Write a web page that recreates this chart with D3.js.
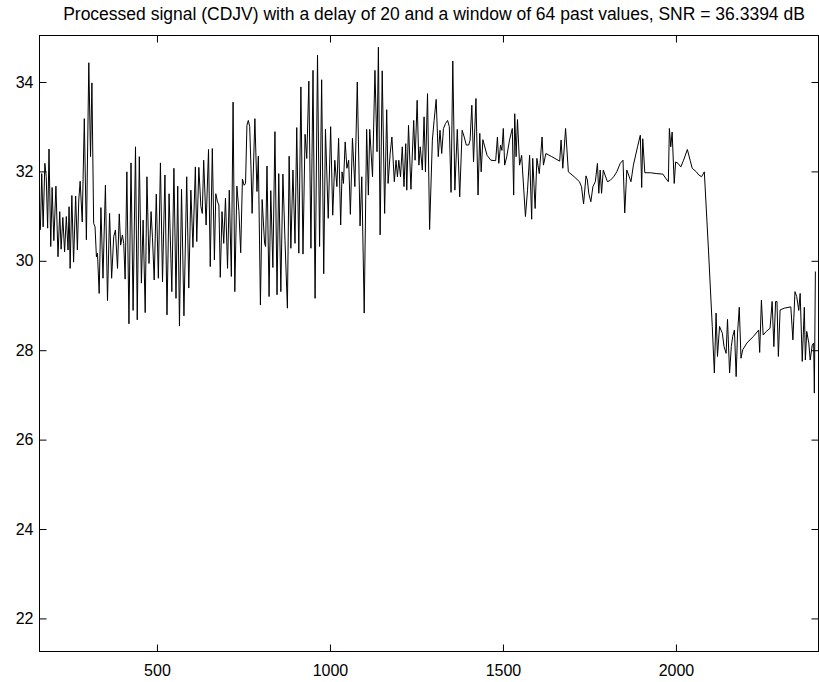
<!DOCTYPE html>
<html><head><meta charset="utf-8">
<script src="https://cdn.jsdelivr.net/npm/d3@7"></script>
<style>
body{margin:0;background:#fff;}
svg{display:block;}
text{font-family:"Liberation Sans",Arial,Helvetica,sans-serif;fill:#000;}
</style>
</head><body>
<svg id="chart" width="819" height="682"></svg>
<script>
const titleText = "Processed signal (CDJV) with a delay of 20 and a window of 64 past values, SNR = 36.3394 dB";

const sampleX = [
163,167,171,176,180,184,188,193,197,202,208,214,219,223,228,233,238,243,246,249,254,259,265,270,274,278,284,290,296,303,308,312,317,321,325,328,333,338,344,351,357,363,369,375,380,386,391,395,400,404,408,413,419,425,431,438,443,449,455,460,466,471,477,483,487,492,498,504,510,516,523,529,535,
543,549,555,560,565,571,578,586,592,598,604,611,615,621,627,631,635,642,649,654,660,666,670,675,679,683,688,693,698,704,709,715,720,725,731,737,742,747,752,756,760,764,768,772,775,783,789,793,799,804,811,814,818,824,829,835,841,847,852,858,864,870,877,882,887,893,899,904,910,
916,922,928,933,939,945,951,957,964,970,976,982,987,995,1002,1008,1014,1020,1025,1031,1035,1039,1044,1049,1054,1059,1065,1072,1079,1087,1092,1099,1106,1111,1115,1123,1130,1136,1140,1145,1151,1158,1164,1168,1174,1179,1186,1191,1195,1199,1204,1209,1214,1219,1222,1227,1234,1242,1246,1252,1257,1261,1267,1272,1276,1282,1288,
1296,1301,1307,1313,1318,1323,1328,1334,1340,1345,1350,1355,1361,1368,1375,1382,1388,1394,1401,1405,1410,1415,1422,1428,1433,1437,1442,1454,1465,1479,1484,1488,1493,1497,1501,1505,1511,1519,1527,1531,1534,1538,1542,1548,1554,1565,1571,1577,1583,1586,1593,1598,1605,1613,1617,1624,1641,1664,1668,1673,1681,1689,1706,1721,1727,1733,1740,1744,1748,1754,1760,1767,1773,1777,1781,
1785,1790,1795,1802,1810,1820,1829,1839,1847,1852,1858,1870,1877,1889,1897,1901,1904,1910,1926,1945,1962,1971,1978,1981,1985,1989,1995,1999,2006,2014,2022,2033,2041,2047,2059,2066,2074,2082,2094,2105,2111,2116,2120,2126,2134,2139,2145,2149,2155,2160,2164,2169,2174,2178,2183,2188,2193,2205,2224,2239,2242,2247,2252,2261,2272,2278,2283,2288,2292,2296,2301,2313,2332,2338,2344,2349,2355,2359,2365,2371,2374,2378,2384,2388,2394,2398,2400,2403
];

const signal = [
30.69,31.95,30.76,32.18,31.88,30.73,32.50,30.32,31.64,30.45,31.67,30.09,31.10,30.26,30.97,30.20,30.99,30.24,31.21,29.83,31.46,29.97,31.45,30.24,31.36,31.78,30.87,33.18,30.47,34.43,32.33,33.98,30.84,30.76,30.09,30.17,29.27,31.19,29.61,31.69,29.11,31.06,29.61,30.54,30.69,29.83,31.05,30.35,30.58,30.39,29.59,31.99,28.59,32.19,28.89,32.55,28.68,32.33,29.50,30.91,28.84,31.88,29.94,31.10,30.52,29.57,31.49,29.61,32.19,29.53,31.92,28.79,31.50,
29.31,32.07,29.16,31.67,28.54,31.60,28.77,31.88,29.39,31.58,30.30,32.10,30.43,32.09,31.21,31.06,32.25,30.80,32.49,29.87,32.51,30.02,31.50,31.32,31.25,29.63,31.10,30.39,31.40,29.83,31.58,29.65,33.55,29.31,31.67,31.10,30.18,31.83,31.69,31.73,33.03,33.14,33.00,32.03,31.06,33.18,31.55,32.34,29.01,31.37,30.39,30.32,32.12,29.20,31.57,29.85,32.89,29.24,31.95,29.31,31.94,30.46,28.94,32.34,30.28,32.03,30.39,32.98,30.17,
33.89,30.15,32.83,32.29,34.02,30.28,34.26,29.16,34.60,30.32,34.05,29.71,32.94,30.95,33.00,31.02,32.25,31.66,32.74,30.80,31.99,31.73,32.66,32.07,32.25,31.04,32.74,31.66,34.00,30.78,31.88,28.83,32.94,31.47,32.94,31.88,34.26,32.44,34.78,30.58,34.25,31.06,33.38,31.73,32.40,32.77,31.77,32.25,31.88,32.25,31.88,32.55,31.66,32.62,31.58,33.03,31.60,33.14,32.25,33.59,32.14,32.55,32.03,33.22,31.99,33.74,30.70,
32.70,33.14,33.61,32.33,32.92,32.40,32.96,33.07,33.14,33.00,31.53,34.47,31.58,32.94,31.43,32.92,32.77,32.59,32.59,32.70,33.48,32.21,33.63,31.47,32.85,31.99,32.71,32.36,32.25,32.24,32.77,32.18,32.59,32.47,32.96,32.14,32.33,32.70,32.96,31.47,33.29,32.33,33.16,32.14,32.36,30.99,31.58,32.36,30.93,32.29,31.17,32.29,31.95,32.77,32.14,32.40,32.33,32.23,32.70,32.07,32.96,31.99,31.88,31.77,31.66,31.27,31.90,31.81,31.51,31.32,31.66,31.77,32.18,31.51,32.03,
31.51,32.03,31.92,31.77,31.80,31.88,31.99,32.18,32.25,31.07,32.03,31.77,32.14,32.55,32.81,31.64,32.73,31.97,31.97,31.95,31.94,31.84,31.77,32.96,32.55,32.88,31.73,32.21,32.18,32.10,32.25,32.49,32.25,32.07,31.99,31.92,31.88,31.99,30.24,28.53,27.49,28.83,27.86,28.53,28.38,28.08,27.93,28.69,27.49,28.08,28.31,28.45,27.41,28.38,28.96,27.82,28.01,28.16,28.31,28.45,27.95,29.12,28.34,28.42,28.49,29.09,28.08,29.09,29.09,27.86,28.90,28.94,28.97,28.23,29.31,29.20,28.89,29.27,27.75,28.96,27.78,28.42,28.16,27.78,28.12,28.16,27.04,29.76
];

const xTickValues = [500, 1000, 1500, 2000];
const yTickValues = [22, 24, 26, 28, 30, 32, 34];
const xDomain = [160.5, 2412];
const yDomain = [21.26, 35.04];

const box = {left: 39.5, right: 818.5, top: 35.5, bottom: 651.5};
const svg = d3.select("#chart");

const x = d3.scaleLinear().domain(xDomain).range([box.left, box.right]);
const y = d3.scaleLinear().domain(yDomain).range([box.bottom, box.top]);

const points = sampleX.map((d, i) => [d, signal[i]]);

svg.append("defs").append("clipPath").attr("id", "clip")
  .append("rect").attr("x", box.left).attr("y", box.top)
  .attr("width", box.right - box.left).attr("height", box.bottom - box.top);

svg.append("path")
  .datum(points)
  .attr("clip-path", "url(#clip)")
  .attr("fill", "none")
  .attr("stroke", "#000")
  .attr("stroke-width", 1)
  .attr("stroke-linejoin", "miter")
  .attr("d", d3.line().x(d => x(d[0])).y(d => y(d[1])));

const tick = 7;
const fs = 16;

const gB = svg.append("g").attr("transform", `translate(0,${box.bottom})`)
  .call(d3.axisBottom(x).tickValues(xTickValues).tickSizeInner(-tick).tickSizeOuter(0).tickPadding(13).tickFormat(d3.format("d")));
const gL = svg.append("g").attr("transform", `translate(${box.left},0)`)
  .call(d3.axisLeft(y).tickValues(yTickValues).tickSizeInner(-tick).tickSizeOuter(0).tickPadding(6).tickFormat(d3.format("d")));
const gT = svg.append("g").attr("transform", `translate(0,${box.top})`)
  .call(d3.axisTop(x).tickValues(xTickValues).tickSizeInner(-tick).tickSizeOuter(0).tickFormat(""));
const gR = svg.append("g").attr("transform", `translate(${box.right},0)`)
  .call(d3.axisRight(y).tickValues(yTickValues).tickSizeInner(-tick).tickSizeOuter(0).tickFormat(""));

[gB, gL, gT, gR].forEach(g => {
  g.select(".domain").remove();
  g.selectAll(".tick line").attr("stroke", "#000").attr("stroke-width", 1);
  g.selectAll("text").attr("font-family", '"Liberation Sans",Arial,sans-serif').attr("font-size", fs).attr("fill", "#000");
});

svg.append("rect")
  .attr("x", box.left).attr("y", box.top)
  .attr("width", box.right - box.left).attr("height", box.bottom - box.top)
  .attr("fill", "none").attr("stroke", "#000").attr("stroke-width", 1);

svg.append("text")
  .attr("x", 434).attr("y", 20)
  .attr("text-anchor", "middle")
  .attr("font-size", 17.5)
  .text(titleText);
</script>
</body></html>
